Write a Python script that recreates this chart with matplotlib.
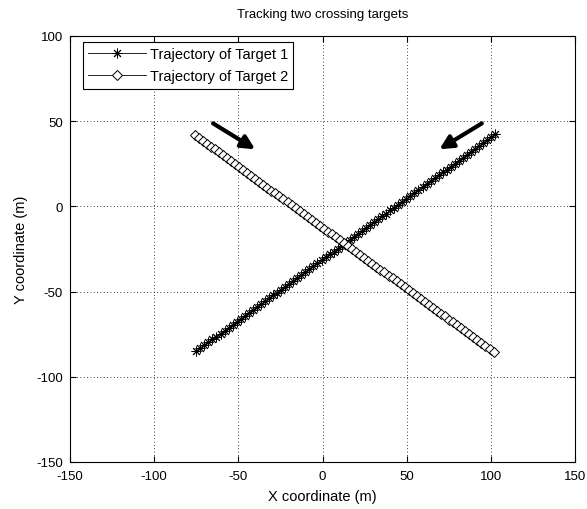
import matplotlib
matplotlib.use("Agg")
import matplotlib.pyplot as plt

# Target 1 positions (m)
t1_x = [-75.0, -72.6, -70.2, -67.8, -65.4, -63.0, -60.6, -58.2, -55.8, -53.4,
        -51.0, -48.6, -46.2, -43.8, -41.4, -39.0, -36.6, -34.2, -31.8, -29.4,
        -27.0, -24.6, -22.2, -19.8, -17.4, -15.0, -12.6, -10.2, -7.8, -5.4,
        -3.0, -0.6, 1.8, 4.2, 6.6, 9.0, 11.4, 13.8, 16.2, 18.6,
        21.0, 23.4, 25.8, 28.2, 30.6, 33.0, 35.4, 37.8, 40.2, 42.6,
        45.0, 47.4, 49.8, 52.2, 54.6, 57.0, 59.4, 61.8, 64.2, 66.6,
        69.0, 71.4, 73.8, 76.2, 78.6, 81.0, 83.4, 85.8, 88.2, 90.6,
        93.0, 95.4, 97.8, 100.2, 102.6]
t1_y = [-85.0, -83.3, -81.6, -79.8, -78.1, -76.4, -74.7, -73.0, -71.2, -69.5,
        -67.8, -66.1, -64.4, -62.6, -60.9, -59.2, -57.5, -55.8, -54.0, -52.3,
        -50.6, -48.9, -47.2, -45.4, -43.7, -42.0, -40.3, -38.6, -36.8, -35.1,
        -33.4, -31.7, -30.0, -28.2, -26.5, -24.8, -23.1, -21.4, -19.6, -17.9,
        -16.2, -14.5, -12.8, -11.0, -9.3, -7.6, -5.9, -4.2, -2.4, -0.7,
        1.0, 2.7, 4.4, 6.2, 7.9, 9.6, 11.3, 13.0, 14.8, 16.5,
        18.2, 19.9, 21.6, 23.4, 25.1, 26.8, 28.5, 30.2, 32.0, 33.7,
        35.4, 37.1, 38.8, 40.6, 42.3]

# Target 2 positions (m)
t2_x = [-76.0, -73.6, -71.2, -68.8, -66.4, -64.0, -61.6, -59.2, -56.8, -54.4,
        -52.0, -49.6, -47.2, -44.8, -42.4, -40.0, -37.6, -35.2, -32.8, -30.4,
        -28.0, -25.6, -23.2, -20.8, -18.4, -16.0, -13.6, -11.2, -8.8, -6.4,
        -4.0, -1.6, 0.8, 3.2, 5.6, 8.0, 10.4, 12.8, 15.2, 17.6,
        20.0, 22.4, 24.8, 27.2, 29.6, 32.0, 34.4, 36.8, 39.2, 41.6,
        44.0, 46.4, 48.8, 51.2, 53.6, 56.0, 58.4, 60.8, 63.2, 65.6,
        68.0, 70.4, 72.8, 75.2, 77.6, 80.0, 82.4, 84.8, 87.2, 89.6,
        92.0, 94.4, 96.8, 99.2, 101.6]
t2_y = [42.0, 40.3, 38.6, 36.8, 35.1, 33.4, 31.7, 30.0, 28.2, 26.5,
        24.8, 23.1, 21.4, 19.6, 17.9, 16.2, 14.5, 12.8, 11.0, 9.3,
        7.6, 5.9, 4.2, 2.4, 0.7, -1.0, -2.7, -4.4, -6.2, -7.9,
        -9.6, -11.3, -13.0, -14.8, -16.5, -18.2, -19.9, -21.6, -23.4, -25.1,
        -26.8, -28.5, -30.2, -32.0, -33.7, -35.4, -37.1, -38.8, -40.6, -42.3,
        -44.0, -45.7, -47.4, -49.2, -50.9, -52.6, -54.3, -56.0, -57.8, -59.5,
        -61.2, -62.9, -64.6, -66.4, -68.1, -69.8, -71.5, -73.2, -75.0, -76.7,
        -78.4, -80.1, -81.8, -83.6, -85.3]

x_ticks = [-150, -100, -50, 0, 50, 100, 150]
y_ticks = [-150, -100, -50, 0, 50, 100]

# Direction-of-motion arrows: (tail, head)
arrows = [((-65.0, 48.7), (-40.0, 33.5)),
          ((94.6, 48.7), (69.4, 33.5))]

plt.rcParams['font.family'] = ['Liberation Sans', 'DejaVu Sans']
plt.rcParams['font.size'] = 9
plt.rcParams['axes.unicode_minus'] = False

fig = plt.figure(figsize=(5.87, 5.10), dpi=100)
ax = fig.add_axes([0.1193, 0.0922, 0.8603, 0.8353])

# asterisk marker: 8 spokes (plus and cross overlaid)
star = (8, 2, 0)
ax.plot(t1_x, t1_y, color='k', lw=0.6, marker=star, markersize=7,
        markerfacecolor='k', markeredgecolor='k', markeredgewidth=0.7,
        label='Trajectory of Target 1')
ax.plot(t2_x, t2_y, color='k', lw=0.6, marker='D', markersize=5.5,
        markerfacecolor='white', markeredgecolor='k', markeredgewidth=0.7,
        label='Trajectory of Target 2')

for tail, head in arrows:
    ax.annotate('', xy=head, xytext=tail,
                arrowprops=dict(arrowstyle='-|>', color='k', lw=3,
                                mutation_scale=20, shrinkA=0, shrinkB=0))

ax.set_xlim(-150, 150)
ax.set_ylim(-150, 100)
ax.set_xticks(x_ticks)
ax.set_yticks(y_ticks)
ax.tick_params(direction='in', top=True, right=True, length=4, width=0.8,
               labelsize=9.5)
ax.tick_params(axis='x', pad=6)
ax.tick_params(axis='y', pad=5)
ax.grid(True, color='k', linestyle=(0, (1, 3)), linewidth=0.6)
for s in ax.spines.values():
    s.set_linewidth(0.8)

ax.set_title('Tracking two crossing targets', fontsize=9.5, pad=14)
ax.set_xlabel('X coordinate (m)', fontsize=10.5, labelpad=5)
ax.set_ylabel('Y coordinate (m)', fontsize=10.5, labelpad=6)

leg = ax.legend(loc='upper left', bbox_to_anchor=(0.025, 0.985),
                fontsize=10.5, frameon=True, fancybox=False,
                edgecolor='k', framealpha=1, borderpad=0.35,
                handlelength=4.0, handletextpad=0.25, labelspacing=0.55,
                borderaxespad=0.0, markerscale=1)
leg.get_frame().set_linewidth(0.8)

fig.savefig('out.png', dpi=100)
